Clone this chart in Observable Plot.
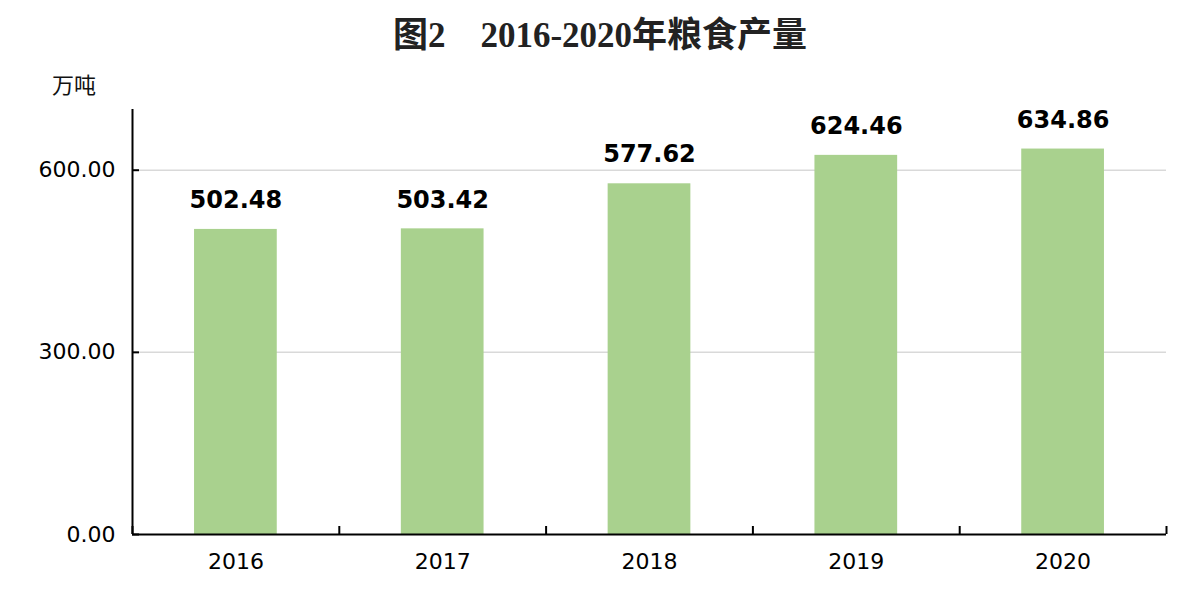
<!DOCTYPE html>
<html>
<head>
<meta charset="utf-8">
<script src="https://cdn.jsdelivr.net/npm/d3@7"></script>
<script src="https://cdn.jsdelivr.net/npm/@observablehq/plot@0.6"></script>
<style>
  html, body { margin: 0; padding: 0; background: #fff; }
  #wrap { position: relative; width: 1200px; height: 600px; overflow: hidden; }
  #header { position: relative; width: 1200px; height: 100px; }
  #title { position: absolute; left: 0; top: 16px; width: 1200px; text-align: center;
    font-family: "Liberation Serif", "Noto Sans CJK SC", serif; font-weight: bold;
    font-size: 35px; line-height: 40px; color: #222; }
  #unit { position: absolute; left: 52px; top: 68px; font-family: "Noto Sans CJK SC", sans-serif;
    font-size: 22px; line-height: 30px; color: #111; }
  #chart svg { display: block; }
</style>
</head>
<body>
<div id="wrap">
  <div id="header">
    <div id="title">图2　2016-2020年粮食产量</div>
    <div id="unit">万吨</div>
  </div>
  <div id="chart"></div>
</div>
<script>
const years = [2016, 2017, 2018, 2019, 2020];
const values = [502.48, 503.42, 577.62, 624.46, 634.86];
const yTicks = [0, 300, 600];
const yMax = 700;

const data = years.map((year, i) => ({ year, value: values[i] }));
const xMin = years[0] - 0.5;
const xMaxB = years[years.length - 1] + 0.5;
const boundaries = years.map(y => y - 0.5).concat([xMaxB]);

const chart = Plot.plot({
  width: 1200,
  height: 500,
  marginTop: 9,
  marginBottom: 66,
  marginLeft: 132,
  marginRight: 34,
  style: { fontFamily: "DejaVu Sans, sans-serif", background: "#fff", color: "#000" },
  x: { type: "linear", domain: [xMin, xMaxB] },
  y: { domain: [0, yMax] },
  marks: [
    Plot.ruleY(yTicks.filter(d => d > 0), { stroke: "#d9d9d9", strokeWidth: 1.5 }),
    Plot.rectY(data, { x1: d => d.year - 0.2, x2: d => d.year + 0.2, y: "value", fill: "#a9d18e" }),
    Plot.text(data, { x: "year", y: "value", text: d => d.value.toFixed(2), fontSize: 24, fontWeight: "bold", fill: "#000", lineAnchor: "middle", dy: -29 }),
    Plot.ruleY([0], { stroke: "#000", strokeWidth: 2 }),
    Plot.ruleX([xMin], { y1: 0, y2: yMax, stroke: "#000", strokeWidth: 2 }),
    Plot.axisY({ ticks: yTicks, tickFormat: d => d.toFixed(2), tickSize: -7, tickPadding: 24, strokeWidth: 2, fontSize: 22, label: null, color: "#000" }),
    Plot.axisX({ ticks: boundaries, tickFormat: () => "", tickSize: -8, strokeWidth: 2, label: null }),
    Plot.axisX({ ticks: years, tickFormat: d => String(d), tickSize: 0, tickPadding: 19, fontSize: 22, label: null })
  ]
});
document.getElementById("chart").appendChild(chart);
</script>
</body>
</html>
